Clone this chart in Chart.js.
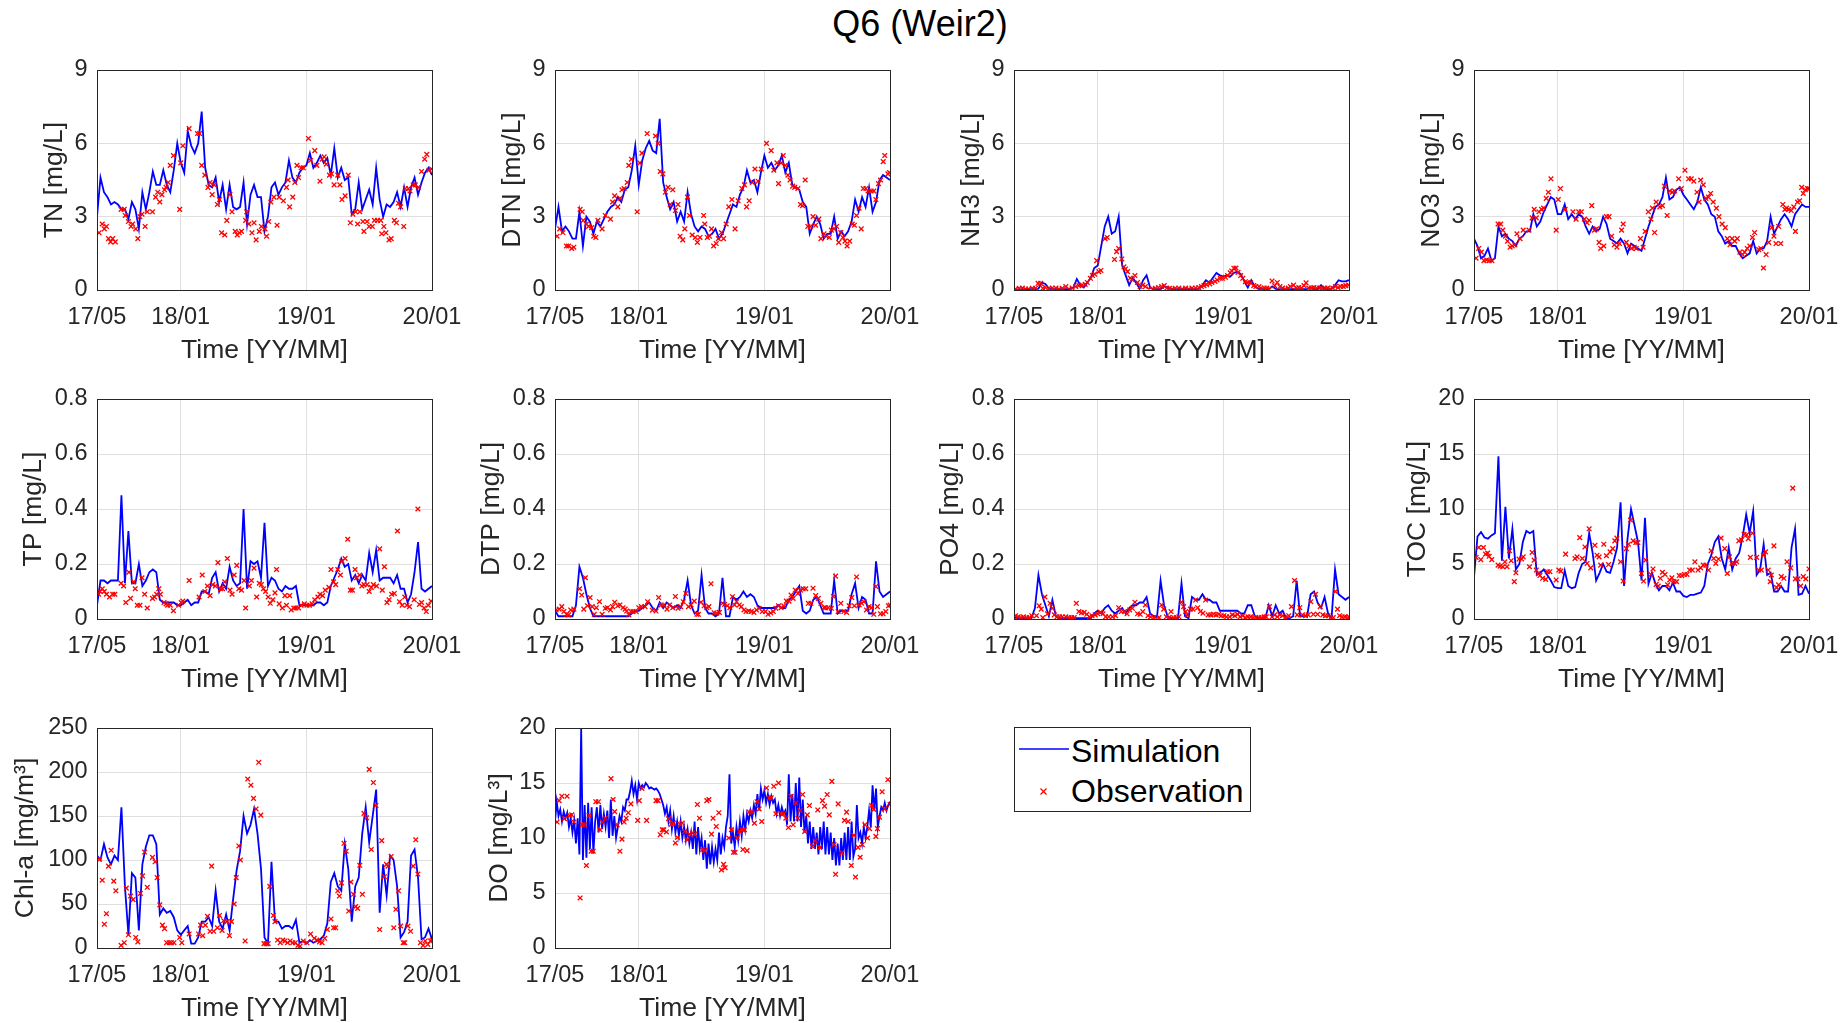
<!DOCTYPE html>
<html>
<head>
<meta charset="utf-8">
<title>Q6 (Weir2)</title>
<script src="https://cdn.jsdelivr.net/npm/chart.js@4.4.1/dist/chart.umd.min.js"></script>
<style>
  body { margin: 0; background: #fff; width: 1847px; height: 1023px; position: relative; overflow: hidden;
         font-family: "Liberation Sans", Arial, sans-serif; }
  #title { position: absolute; left: 0; top: 4px; width: 1840px; line-height: 40px; text-align: center;
           font-size: 36px; color: #000; }
  canvas { position: absolute; }
  #legend { position: absolute; left: 1014px; top: 727px; width: 235px; height: 83px;
            border: 1px solid #262626; background: #fff; }
  #legend svg { position: absolute; left: 0; top: 0; }
  #legend span { position: absolute; left: 56px; font-size: 32px; line-height: 36px; color: #000; }
</style>
</head>
<body>
<div id="title">Q6 (Weir2)</div>
<div id="legend">
  <svg width="235" height="83">
    <line x1="4" y1="21" x2="54" y2="21" stroke="#0000ff" stroke-width="1.4"/>
    <line x1="25.5" y1="60.5" x2="31.5" y2="66.5" stroke="#ff0000" stroke-width="1.3"/>
    <line x1="25.5" y1="66.5" x2="31.5" y2="60.5" stroke="#ff0000" stroke-width="1.3"/>
  </svg>
  <span style="top:5px">Simulation</span>
  <span style="top:45px">Observation</span>
</div>
<script>
// model output every 1/3 month from 2017-05 to 2020-01 (x in months since 17/05);
// DO is kept at 1/6 month because it swings a lot between days
const simMonths = Array.from({ length: 97 }, (_, i) => i / 3);
const doSimMonths = Array.from({ length: 193 }, (_, i) => i / 6);
const xTickMonths = [0, 8, 20, 32];
const xTickLabels = ['17/05', '18/01', '19/01', '20/01'];

const tnSim = [
  3.0, 4.6, 4.0, 3.8, 3.5, 3.6, 3.5, 3.3, 3.3, 2.9, 3.6, 3.3,
  2.5, 4.0, 3.3, 4.0, 4.85, 4.3, 4.3, 4.9, 4.3, 4.0, 4.9, 6.0,
  5.2, 4.8, 6.5, 5.9, 5.6, 6.0, 7.3, 5.0, 4.3, 4.2, 4.6, 3.6,
  4.3, 3.3, 4.3, 3.4, 3.3, 3.4, 4.4, 2.7, 3.9, 4.3, 3.8, 3.8,
  2.4, 3.0, 4.2, 4.4, 3.9, 4.2, 4.4, 5.3, 4.6, 4.4, 4.8, 5.0,
  5.1, 5.6, 5.0, 5.2, 5.5, 5.2, 5.4, 4.7, 5.8, 4.6, 5.0, 4.5,
  4.6, 3.1, 3.3, 4.4, 3.3, 3.7, 4.1, 3.5, 5.0, 3.7, 3.0, 3.5,
  3.4, 3.6, 4.0, 3.4, 4.2, 3.4, 4.2, 4.6, 3.9, 4.4, 4.8, 5.0,
  4.7
];
const tnObs = [[0.2,2.34],[0.5,2.7],[0.7,2.5],[0.9,2.6],[1.1,2.1],[1.3,1.97],[1.5,2.1],[1.75,1.97],[2.3,3.3],[2.6,3.3],
  [2.7,3.05],[3.0,2.8],[3.25,2.6],[3.4,2.7],[3.7,2.5],[3.9,2.1],[4.1,3.0],[4.3,3.1],[4.6,2.6],[4.8,3.2],[5.3,3.2],[5.6,3.8],
  [5.8,4.0],[6.0,3.6],[6.2,3.9],[6.45,4.1],[6.6,4.2],[6.8,4.4],[7.0,5.1],[7.3,5.5],[7.9,3.3],[8.0,5.2],[8.2,5.9],[8.8,6.6],
  [9.6,6.4],[9.8,6.4],[10.0,5.1],[10.3,4.7],[10.6,4.2],[10.8,4.4],[11.0,3.9],[11.2,4.3],[11.5,3.5],[11.7,3.7],[11.9,2.34],
  [12.2,2.25],[12.4,2.85],[12.7,3.9],[12.9,3.2],[13.2,2.4],[13.4,2.25],[13.6,2.34],[13.8,2.4],[14.2,2.85],[14.3,3.2],[14.5,2.7],
  [14.8,2.34],[15.0,2.75],[15.2,2.05],[15.5,2.4],[15.7,2.6],[16.05,2.5],[16.2,2.2],[16.4,2.8],[16.6,3.6],[16.9,3.8],[17.2,2.65],
  [17.4,3.8],[17.8,3.65],[18.1,4.2],[18.25,4.5],[18.4,3.4],[18.7,3.8],[18.9,4.4],[19.1,5.1],[19.25,4.6],[19.5,5.0],[19.7,5.0],
  [20.2,6.2],[20.4,5.3],[20.8,5.7],[21.0,5.1],[21.3,4.45],[21.5,5.35],[21.7,5.45],[21.9,5.15],[22.2,4.7],[22.4,4.75],[22.65,4.3],
  [23.0,4.7],[23.2,4.3],[23.4,3.7],[23.7,3.85],[24.0,4.7],[24.2,2.75],[24.45,3.1],[24.7,3.2],[24.9,2.7],[25.1,3.2],[25.4,2.8],
  [25.5,2.4],[25.8,2.8],[26.0,2.6],[26.3,2.6],[26.5,2.85],[26.8,2.85],[27.1,2.85],[27.2,2.3],[27.4,2.6],[27.6,2.34],[27.9,2.05],
  [28.1,2.1],[28.4,2.85],[28.6,2.75],[28.8,3.55],[29.0,3.4],[29.3,2.6],[29.45,4.15],[29.75,4.15],[29.9,4.05],[30.2,4.3],
  [30.4,4.3],[30.7,4.2],[31.0,4.85],[31.3,5.35],[31.5,5.55],[31.7,4.9],[31.95,4.95]];

const dtnSim = [
  2.5, 3.4, 2.4, 2.6, 2.4, 2.1, 2.1, 3.2, 1.8, 3.0, 2.8, 2.3,
  2.8, 2.6, 2.9, 3.2, 3.4, 3.5, 3.8, 3.6, 4.1, 4.2, 4.9, 5.9,
  4.3, 5.3, 5.8, 6.1, 5.7, 5.6, 7.0, 4.4, 3.8, 3.3, 3.6, 2.8,
  3.2, 2.8, 4.0, 3.1, 2.6, 2.4, 2.6, 2.5, 2.2, 2.3, 2.5, 2.1,
  2.3, 2.7, 3.1, 3.5, 3.4, 3.9, 4.2, 4.9, 4.4, 4.5, 4.0, 4.8,
  5.5, 5.0, 5.2, 4.9, 5.1, 5.5, 4.8, 5.2, 4.3, 4.2, 4.1, 3.6,
  3.4, 2.3, 2.7, 3.0, 2.7, 2.1, 2.3, 2.3, 3.0, 2.1, 2.4, 2.2,
  2.4, 2.8, 3.7, 3.2, 3.8, 3.4, 4.2, 3.2, 3.6, 4.5, 4.7, 4.6,
  4.5
];
const dtnObs = [[0.2,2.2],[0.45,2.5],[0.75,2.35],[1.1,1.8],[1.3,1.8],[1.6,1.7],[1.8,1.75],[2.4,3.3],[2.6,3.2],[2.7,2.85],
  [3.0,2.7],[3.2,2.6],[3.5,2.55],[3.7,2.2],[3.9,2.15],[4.1,2.85],[4.5,2.5],[4.8,3.05],[5.3,2.9],[5.5,3.6],[5.7,3.85],[6.0,3.4],
  [6.2,3.75],[6.4,4.1],[6.6,4.15],[6.9,4.4],[7.05,5.1],[7.3,5.35],[7.85,3.2],[8.1,5.2],[8.3,5.6],[8.8,6.4],[9.6,6.3],[9.85,6.0],
  [10.05,4.85],[10.3,4.75],[10.55,4.0],[10.8,4.2],[11.0,3.5],[11.25,4.1],[11.5,3.25],[11.75,3.5],[11.95,2.2],[12.2,2.05],
  [12.4,2.5],[12.65,3.8],[12.85,3.05],[13.1,2.25],[13.4,2.15],[13.6,1.95],[13.85,2.15],[14.2,3.05],[14.3,2.7],[14.55,2.15],
  [14.75,2.2],[14.95,2.5],[15.15,1.8],[15.4,1.9],[15.6,2.1],[15.9,2.35],[16.1,2.1],[16.35,2.7],[16.6,3.4],[16.9,3.7],[17.2,2.5],
  [17.5,3.65],[17.85,4.15],[18.1,4.3],[18.3,3.4],[18.55,3.65],[18.85,4.4],[19.1,4.95],[19.4,4.45],[19.7,4.95],[20.2,6.0],
  [20.65,5.7],[20.9,4.9],[21.2,5.2],[21.35,4.35],[21.6,5.2],[21.8,5.5],[22.0,5.1],[22.25,4.7],[22.45,4.5],[22.7,4.25],[22.9,4.2],
  [23.2,4.15],[23.45,3.5],[23.65,3.45],[23.9,4.5],[24.15,2.6],[24.4,2.6],[24.65,3.0],[24.9,2.65],[25.2,2.9],[25.4,2.1],[25.7,2.3],
  [25.9,2.2],[26.2,2.15],[26.4,2.45],[26.65,2.5],[26.9,2.6],[27.1,1.95],[27.3,2.35],[27.5,2.15],[27.7,2.0],[27.9,1.8],[28.15,2.0],
  [28.4,2.7],[28.6,2.65],[28.8,3.05],[29.05,3.35],[29.25,2.5],[29.45,4.15],[29.7,4.15],[29.9,4.05],[30.2,4.05],[30.45,4.05],
  [30.65,3.7],[30.9,4.35],[31.1,4.5],[31.35,5.25],[31.5,5.5],[31.8,4.75],[31.95,4.8]];

const nh3Sim = [
  0.05, 0.02, 0.02, 0.02, 0.02, 0.03, 0.03, 0.05, 0.3, 0.25, 0.05, 0.05,
  0.03, 0.03, 0.03, 0.03, 0.03, 0.1, 0.45, 0.2, 0.1, 0.3, 0.5, 0.9,
  1.0, 1.8, 2.6, 3.0, 2.3, 2.4, 3.0, 1.0, 0.6, 0.2, 0.5, 0.3,
  0.05, 0.4, 0.6, 0.1, 0.03, 0.03, 0.03, 0.15, 0.1, 0.03, 0.03, 0.03,
  0.03, 0.03, 0.03, 0.03, 0.03, 0.05, 0.2, 0.4, 0.3, 0.5, 0.7, 0.6,
  0.55, 0.6, 0.55, 0.7, 0.75, 0.65, 0.35, 0.1, 0.4, 0.15, 0.05, 0.05,
  0.03, 0.03, 0.15, 0.05, 0.03, 0.03, 0.03, 0.03, 0.03, 0.03, 0.03, 0.03,
  0.03, 0.12, 0.03, 0.03, 0.2, 0.05, 0.03, 0.05, 0.2, 0.4, 0.35, 0.35,
  0.4
];
const nh3Obs = [[0.15,0.04],[0.5,0.07],[0.8,0.08],[1.1,0.04],[1.4,0.04],[1.75,0.07],[2.05,0.07],[2.3,0.27],[2.55,0.27],
  [2.75,0.07],[3.0,0.1],[3.35,0.07],[3.65,0.08],[4.0,0.08],[4.3,0.04],[4.6,0.07],[4.95,0.14],[5.25,0.04],[5.55,0.08],[5.9,0.14],
  [6.2,0.18],[6.5,0.2],[6.8,0.23],[7.0,0.31],[7.3,0.48],[7.5,0.59],[7.7,0.65],[7.9,1.2],[8.1,0.75],[8.3,0.8],[8.7,2.1],[8.9,2.15],
  [9.6,1.25],[9.8,1.57],[10.0,1.7],[10.3,1.27],[10.5,0.95],[10.65,0.86],[10.85,0.75],[11.1,0.49],[11.3,0.42],[11.55,0.59],
  [11.8,0.31],[12.05,0.14],[12.3,0.2],[12.55,0.14],[12.9,0.04],[13.2,0.04],[13.5,0.07],[13.8,0.1],[14.1,0.14],[14.35,0.18],
  [14.6,0.08],[14.85,0.07],[15.1,0.04],[15.4,0.07],[15.75,0.08],[16.05,0.04],[16.4,0.08],[16.7,0.04],[17.0,0.08],[17.35,0.08],
  [17.65,0.1],[17.9,0.14],[18.15,0.18],[18.4,0.22],[18.7,0.25],[18.9,0.31],[19.2,0.35],[19.4,0.41],[19.7,0.48],[19.9,0.48],
  [20.2,0.52],[20.4,0.59],[20.65,0.7],[20.8,0.78],[21.0,0.89],[21.2,0.9],[21.4,0.72],[21.65,0.59],[21.85,0.48],[22.1,0.34],
  [22.35,0.31],[22.6,0.29],[22.9,0.18],[23.1,0.14],[23.4,0.14],[23.6,0.08],[23.9,0.08],[24.15,0.08],[24.4,0.04],[24.65,0.37],
  [24.9,0.18],[25.15,0.31],[25.4,0.14],[25.65,0.08],[25.9,0.04],[26.2,0.08],[26.4,0.14],[26.7,0.2],[26.95,0.08],[27.2,0.1],
  [27.45,0.08],[27.7,0.18],[27.9,0.29],[28.15,0.08],[28.4,0.08],[28.65,0.1],[28.9,0.08],[29.2,0.08],[29.4,0.07],[29.7,0.08],
  [29.95,0.08],[30.2,0.04],[30.45,0.08],[30.7,0.14],[30.95,0.1],[31.2,0.14],[31.45,0.15],[31.7,0.18],[31.95,0.2]];

const no3Sim = [
  2.1, 1.8, 1.3, 1.4, 1.7, 1.2, 1.3, 2.6, 2.2, 2.3, 2.1, 2.0,
  1.8, 2.1, 2.2, 2.4, 2.4, 3.1, 2.6, 2.8, 3.2, 3.5, 3.8, 3.7,
  3.1, 3.1, 3.5, 2.9, 3.1, 2.9, 3.1, 3.0, 2.6, 2.3, 2.6, 2.4,
  2.5, 3.0, 2.7, 2.1, 2.0, 1.9, 2.1, 1.9, 1.5, 1.9, 1.8, 1.7,
  1.6, 2.1, 2.6, 3.0, 3.4, 3.5, 3.8, 4.6, 3.7, 3.8, 4.1, 4.2,
  3.9, 3.7, 3.5, 3.3, 3.6, 4.2, 3.7, 3.5, 3.1, 3.0, 2.4, 2.2,
  1.9, 2.0, 1.8, 1.8, 1.5, 1.3, 1.4, 1.5, 2.0, 1.5, 1.7, 1.7,
  2.0, 3.0, 2.3, 2.6, 2.9, 3.1, 2.9, 2.6, 3.1, 3.3, 3.5, 3.4,
  3.4
];
const no3Obs = [[0.2,1.3],[0.45,1.7],[0.7,1.55],[0.95,1.2],[1.2,1.23],[1.45,1.2],[1.7,1.2],[2.3,2.7],[2.55,2.7],[2.75,2.45],
  [3.0,2.2],[3.2,2.0],[3.45,1.75],[3.65,1.8],[3.9,1.85],[4.1,2.3],[4.4,2.1],[4.7,2.45],[5.25,2.45],[5.55,2.95],[5.75,3.3],
  [5.95,2.95],[6.2,3.2],[6.45,3.3],[6.65,3.35],[6.9,3.75],[7.1,4.0],[7.35,4.55],[7.85,2.45],[8.05,3.7],[8.25,4.15],[8.7,3.3],
  [9.45,3.2],[9.75,2.9],[10.0,3.2],[10.25,3.2],[10.55,2.9],[10.8,2.75],[11.0,2.85],[11.25,3.45],[11.5,2.45],[11.7,2.5],
  [11.95,1.95],[12.1,1.7],[12.4,1.8],[12.65,3.0],[12.9,3.0],[13.15,2.2],[13.4,1.85],[13.65,1.75],[13.9,1.9],[14.1,2.45],
  [14.25,2.7],[14.55,1.95],[14.8,1.8],[15.05,1.7],[15.3,1.75],[15.5,1.7],[15.9,2.1],[16.15,1.75],[16.35,2.4],[16.65,3.2],
  [16.9,2.9],[17.05,3.35],[17.25,2.35],[17.4,3.6],[17.75,3.4],[18.0,3.45],[18.2,4.25],[18.45,3.05],[18.7,4.05],[18.95,4.0],
  [19.15,4.05],[19.55,4.55],[19.8,4.15],[20.15,4.9],[20.5,4.55],[20.75,4.55],[21.0,4.45],[21.3,4.0],[21.5,3.6],[21.65,4.5],
  [21.9,4.3],[22.15,3.75],[22.4,3.8],[22.6,3.95],[22.85,3.6],[23.15,3.35],[23.4,3.0],[23.7,2.7],[24.0,2.55],[24.2,2.1],
  [24.45,1.85],[24.65,2.1],[24.9,2.0],[25.15,2.1],[25.4,1.55],[25.65,1.45],[25.85,1.55],[26.1,1.7],[26.35,1.8],[26.6,2.15],
  [26.8,2.35],[27.2,1.65],[27.4,1.7],[27.65,0.9],[27.9,1.45],[28.15,1.95],[28.45,2.55],[28.65,2.2],[28.85,1.9],[29.1,2.6],
  [29.3,1.9],[29.5,3.5],[29.7,3.3],[29.85,3.35],[30.05,3.3],[30.3,3.25],[30.55,3.4],[30.7,2.4],[30.9,3.6],[31.1,3.65],
  [31.3,4.2],[31.45,3.95],[31.65,4.1],[31.85,4.15],[32.0,4.15]];

const tpSim = [
  0.05, 0.14, 0.14, 0.13, 0.14, 0.14, 0.14, 0.45, 0.13, 0.32, 0.13, 0.13,
  0.2, 0.12, 0.14, 0.17, 0.18, 0.17, 0.07, 0.06, 0.06, 0.06, 0.06, 0.05,
  0.05, 0.06, 0.07, 0.05, 0.06, 0.06, 0.1, 0.1, 0.09, 0.15, 0.17, 0.1,
  0.13, 0.11, 0.19, 0.14, 0.12, 0.13, 0.4, 0.11, 0.21, 0.2, 0.21, 0.15,
  0.35, 0.12, 0.15, 0.14, 0.11, 0.1, 0.12, 0.11, 0.11, 0.12, 0.05, 0.05,
  0.05, 0.05, 0.05, 0.06, 0.06, 0.05, 0.06, 0.12, 0.15, 0.18, 0.22, 0.19,
  0.2, 0.14, 0.16, 0.13, 0.16, 0.14, 0.24, 0.17, 0.25, 0.14, 0.15, 0.15,
  0.15, 0.13, 0.16, 0.11, 0.11, 0.06, 0.09, 0.17, 0.28, 0.11, 0.1, 0.11,
  0.12
];
const tpObs = [[0.15,0.09],[0.3,0.1],[0.5,0.11],[0.7,0.1],[0.9,0.09],[1.2,0.08],[1.5,0.09],[1.7,0.09],[2.3,0.13],[2.55,0.12],
  [2.75,0.06],[3.05,0.17],[3.2,0.075],[3.5,0.135],[3.65,0.11],[3.85,0.05],[4.1,0.05],[4.3,0.15],[4.55,0.09],[4.8,0.04],
  [5.3,0.075],[5.5,0.08],[5.7,0.09],[5.9,0.11],[6.05,0.09],[6.4,0.06],[6.6,0.055],[6.75,0.05],[7.0,0.05],[7.3,0.03],[7.8,0.05],
  [8.05,0.06],[8.2,0.065],[8.8,0.14],[9.75,0.08],[10.05,0.16],[10.3,0.1],[10.55,0.12],[10.8,0.085],[11.05,0.125],[11.3,0.12],
  [11.55,0.205],[11.8,0.11],[12.0,0.11],[12.2,0.135],[12.45,0.22],[12.7,0.105],[12.9,0.09],[13.1,0.16],[13.35,0.195],
  [13.55,0.11],[13.8,0.105],[14.05,0.14],[14.2,0.04],[14.55,0.12],[14.75,0.14],[15.0,0.185],[15.25,0.08],[15.5,0.13],
  [15.7,0.125],[15.9,0.11],[16.1,0.1],[16.35,0.08],[16.55,0.057],[16.8,0.07],[17.0,0.095],[17.15,0.18],[17.4,0.055],[17.7,0.04],
  [17.95,0.085],[18.1,0.05],[18.4,0.085],[18.55,0.033],[18.8,0.04],[19.0,0.04],[19.25,0.04],[19.5,0.05],[19.8,0.055],
  [20.05,0.05],[20.3,0.05],[20.55,0.055],[20.8,0.07],[21.1,0.08],[21.3,0.09],[21.55,0.085],[21.8,0.105],[22.15,0.115],
  [22.35,0.18],[22.6,0.135],[22.8,0.125],[23.0,0.18],[23.25,0.16],[23.4,0.21],[23.7,0.22],[23.95,0.29],[24.2,0.105],
  [24.4,0.105],[24.65,0.18],[24.8,0.15],[25.1,0.16],[25.3,0.12],[25.5,0.125],[25.8,0.125],[26.0,0.1],[26.2,0.115],[26.4,0.125],
  [26.7,0.12],[27.0,0.255],[27.25,0.105],[27.45,0.19],[27.7,0.06],[27.9,0.07],[28.15,0.09],[28.4,0.093],[28.7,0.32],
  [28.9,0.063],[29.15,0.05],[29.4,0.08],[29.6,0.05],[29.85,0.045],[30.3,0.07],[30.65,0.4],[30.8,0.053],[31.0,0.06],
  [31.25,0.04],[31.45,0.027],[31.65,0.05],[31.9,0.065]];

const dtpSim = [
  0.03, 0.01, 0.01, 0.01, 0.01, 0.01, 0.05, 0.19, 0.15, 0.09, 0.04, 0.01,
  0.01, 0.01, 0.01, 0.01, 0.01, 0.01, 0.01, 0.01, 0.01, 0.01, 0.02, 0.03,
  0.03, 0.04, 0.05, 0.06, 0.04, 0.03, 0.06, 0.04, 0.06, 0.05, 0.04, 0.05,
  0.04, 0.07, 0.14, 0.05, 0.02, 0.03, 0.16, 0.04, 0.02, 0.02, 0.01, 0.02,
  0.15, 0.01, 0.01, 0.08, 0.07, 0.08, 0.1, 0.08, 0.09, 0.08, 0.05, 0.04,
  0.04, 0.04, 0.04, 0.04, 0.05, 0.04, 0.04, 0.07, 0.08, 0.1, 0.12, 0.03,
  0.02, 0.03, 0.07, 0.08, 0.05, 0.02, 0.02, 0.02, 0.14, 0.02, 0.03, 0.03,
  0.03, 0.09, 0.13, 0.04, 0.08, 0.07, 0.02, 0.02, 0.21, 0.1, 0.08, 0.09,
  0.1
];
const dtpObs = [[0.1,0.033],[0.4,0.036],[0.65,0.045],[0.85,0.027],[1.1,0.017],[1.3,0.015],[1.5,0.033],[1.8,0.036],[2.35,0.11],
  [2.55,0.087],[2.75,0.036],[2.9,0.15],[3.1,0.048],[3.35,0.078],[3.55,0.045],[3.75,0.017],[3.95,0.041],[4.25,0.063],[4.5,0.017],
  [4.8,0.039],[5.0,0.041],[5.3,0.033],[5.5,0.045],[5.7,0.061],[6.0,0.048],[6.2,0.051],[6.5,0.041],[6.7,0.036],[6.85,0.029],
  [7.05,0.015],[7.25,0.027],[7.45,0.027],[7.75,0.027],[8.0,0.041],[8.25,0.045],[8.6,0.045],[8.85,0.063],[9.3,0.032],[9.65,0.029],
  [9.9,0.078],[10.15,0.051],[10.4,0.051],[10.7,0.036],[10.95,0.051],[11.25,0.041],[11.5,0.082],[11.75,0.039],[12.0,0.045],
  [12.25,0.063],[12.5,0.093],[12.75,0.045],[13.0,0.051],[13.3,0.065],[13.55,0.017],[13.7,0.017],[13.95,0.061],[14.25,0.048],
  [14.5,0.041],[14.7,0.045],[14.9,0.128],[15.2,0.023],[15.45,0.021],[15.7,0.024],[16.0,0.057],[16.2,0.053],[16.45,0.048],
  [16.7,0.041],[16.95,0.081],[17.15,0.051],[17.35,0.063],[17.6,0.051],[17.8,0.045],[18.05,0.033],[18.25,0.027],[18.5,0.029],
  [18.75,0.027],[19.0,0.024],[19.25,0.033],[19.5,0.039],[19.8,0.027],[20.1,0.027],[20.35,0.017],[20.6,0.022],[20.85,0.027],
  [21.1,0.039],[21.35,0.048],[21.6,0.041],[21.85,0.048],[22.1,0.065],[22.35,0.065],[22.55,0.087],[22.75,0.075],[22.95,0.105],
  [23.2,0.093],[23.45,0.105],[23.7,0.11],[23.95,0.11],[24.2,0.057],[24.45,0.057],[24.65,0.112],[24.9,0.085],[25.15,0.075],
  [25.4,0.057],[25.7,0.041],[25.85,0.041],[26.1,0.041],[26.4,0.039],[26.6,0.082],[26.8,0.156],[27.05,0.027],[27.3,0.057],
  [27.6,0.027],[27.85,0.024],[28.1,0.048],[28.35,0.078],[28.6,0.048],[28.8,0.153],[29.05,0.051],[29.3,0.057],[29.5,0.063],
  [29.75,0.033],[30.0,0.045],[30.25,0.041],[30.45,0.017],[30.65,0.118],[30.8,0.045],[31.1,0.019],[31.35,0.019],[31.6,0.027],
  [31.85,0.048],[32.0,0.051]];

const po4Sim = [
  0.005, 0.003, 0.003, 0.003, 0.003, 0.003, 0.04, 0.16, 0.09, 0.05, 0.01, 0.07,
  0.01, 0.003, 0.003, 0.003, 0.003, 0.003, 0.003, 0.003, 0.003, 0.003, 0.003, 0.02,
  0.03, 0.02, 0.04, 0.05, 0.03, 0.02, 0.03, 0.04, 0.02, 0.04, 0.05, 0.05,
  0.06, 0.06, 0.08, 0.02, 0.01, 0.01, 0.14, 0.05, 0.01, 0.003, 0.003, 0.003,
  0.13, 0.01, 0.003, 0.08, 0.07, 0.07, 0.09, 0.07, 0.07, 0.06, 0.06, 0.03,
  0.03, 0.03, 0.03, 0.03, 0.03, 0.02, 0.02, 0.05, 0.05, 0.01, 0.003, 0.003,
  0.003, 0.05, 0.01, 0.05, 0.02, 0.03, 0.003, 0.003, 0.01, 0.14, 0.01, 0.01,
  0.01, 0.09, 0.1, 0.06, 0.04, 0.08, 0.02, 0.003, 0.18, 0.09, 0.08, 0.07,
  0.08
];
const po4Obs = [[0.15,0.012],[0.4,0.008],[0.65,0.005],[0.9,0.008],[1.2,0.005],[1.45,0.005],[1.7,0.012],[2.15,0.012],[2.4,0.048],
  [2.6,0.036],[2.75,0.005],[2.95,0.08],[3.2,0.019],[3.45,0.057],[3.65,0.039],[3.85,0.015],[4.1,0.008],[4.35,0.008],[4.6,0.008],
  [4.95,0.008],[5.25,0.005],[5.5,0.005],[5.75,0.005],[5.95,0.057],[6.2,0.027],[6.45,0.023],[6.7,0.024],[6.95,0.017],[7.2,0.008],
  [7.45,0.012],[7.75,0.015],[8.0,0.019],[8.25,0.024],[8.5,0.019],[8.75,0.008],[9.05,0.008],[9.4,0.008],[9.7,0.012],[10.0,0.041],
  [10.25,0.027],[10.55,0.027],[10.8,0.019],[11.05,0.033],[11.3,0.039],[11.55,0.061],[11.8,0.019],[12.05,0.017],[12.3,0.027],
  [12.55,0.051],[12.8,0.012],[13.05,0.008],[13.35,0.005],[13.6,0.003],[13.85,0.005],[14.1,0.051],[14.3,0.036],[14.55,0.008],
  [14.8,0.005],[15.0,0.027],[15.25,0.005],[15.5,0.005],[15.75,0.008],[16.0,0.061],[16.2,0.045],[16.4,0.027],[16.55,0.015],
  [16.85,0.036],[17.1,0.036],[17.35,0.069],[17.55,0.041],[17.8,0.027],[18.05,0.021],[18.3,0.069],[18.55,0.015],[18.8,0.015],
  [19.05,0.017],[19.3,0.015],[19.55,0.017],[19.8,0.012],[20.05,0.012],[20.3,0.008],[20.6,0.008],[20.85,0.015],[21.1,0.012],
  [21.35,0.017],[21.6,0.008],[21.85,0.012],[22.1,0.005],[22.35,0.008],[22.6,0.008],[22.85,0.005],[23.1,0.005],[23.4,0.005],
  [23.65,0.005],[23.9,0.008],[24.1,0.008],[24.4,0.045],[24.65,0.008],[24.9,0.015],[25.15,0.008],[25.4,0.015],[25.65,0.012],
  [25.9,0.005],[26.25,0.012],[26.5,0.045],[26.8,0.14],[27.05,0.015],[27.3,0.041],[27.55,0.015],[27.85,0.012],[28.1,0.015],
  [28.35,0.063],[28.6,0.017],[28.8,0.09],[29.0,0.017],[29.25,0.045],[29.5,0.015],[29.75,0.012],[30.0,0.012],[30.25,0.005],
  [30.5,0.005],[30.7,0.1],[30.9,0.036],[31.1,0.012],[31.35,0.008],[31.6,0.008],[31.85,0.005],[32.0,0.008]];

const tocSim = [
  3.8, 7.5, 7.9, 7.4, 7.3, 7.6, 7.8, 14.8, 5.3, 10.2, 5.5, 8.2,
  4.5, 5.0, 7.0, 8.0, 7.8, 8.0, 4.0, 4.2, 4.5, 4.0, 3.5, 2.9,
  2.8, 2.8, 4.4, 3.0, 2.8, 2.9, 4.2, 5.0, 5.2, 7.8, 6.0, 3.5,
  4.2, 5.0, 4.3, 4.2, 5.2, 6.5, 10.6, 3.0, 7.3, 10.0, 8.5, 7.0,
  3.5, 9.2, 3.2, 4.2, 3.2, 2.6, 3.0, 3.0, 2.6, 3.3, 2.5, 2.5,
  2.1, 2.0, 2.2, 2.2, 2.3, 2.4, 3.0, 5.0, 5.8, 7.0, 7.5, 5.5,
  4.5, 6.5, 4.5, 5.5, 6.0, 7.5, 9.5, 7.8, 9.8, 4.0, 4.5, 6.8,
  4.0, 4.2, 2.5, 2.5, 3.0, 2.5, 2.5, 6.5, 8.2, 2.2, 2.3, 3.0,
  2.3
];
const tocObs = [[0.2,5.6],[0.45,6.5],[0.65,5.4],[0.9,6.5],[1.1,5.9],[1.3,6.0],[1.45,5.7],[1.7,5.4],[2.3,4.9],[2.5,4.8],
  [2.75,4.75],[2.95,5.2],[3.15,4.75],[3.4,6.2],[3.55,5.3],[3.85,3.4],[4.0,4.2],[4.3,5.45],[4.55,5.45],[4.7,5.65],[5.3,4.75],
  [5.55,6.05],[5.75,5.35],[5.95,4.45],[6.15,4.15],[6.3,3.95],[6.55,3.7],[6.85,3.6],[7.0,4.3],[7.25,4.3],[7.85,3.55],[8.1,4.45],
  [8.3,4.35],[8.75,5.9],[9.65,5.5],[9.85,5.65],[10.1,7.4],[10.35,5.5],[10.6,6.55],[10.8,5.05],[11.0,8.2],[11.15,4.65],
  [11.55,6.7],[11.75,5.8],[11.95,5.65],[12.1,4.9],[12.4,6.8],[12.65,5.75],[12.85,4.95],[13.0,6.1],[13.25,6.4],[13.45,7.1],
  [13.65,7.35],[14.0,5.2],[14.25,3.45],[14.55,6.4],[14.75,6.8],[14.95,9.0],[15.2,7.1],[15.45,6.95],[15.65,6.95],[16.0,4.15],
  [16.2,3.45],[16.4,5.35],[16.9,4.05],[17.1,4.55],[17.4,3.15],[17.6,3.0],[17.8,3.7],[18.0,4.25],[18.25,4.05],[18.5,3.1],
  [18.7,3.55],[18.9,3.75],[19.1,3.4],[19.35,3.4],[19.6,3.95],[19.85,3.95],[20.1,4.05],[20.35,4.05],[20.6,4.45],[20.85,4.45],
  [21.1,5.2],[21.4,4.45],[21.65,4.65],[21.9,4.9],[22.15,4.9],[22.4,4.45],[22.65,6.2],[22.9,5.5],[23.1,5.05],[23.35,5.45],
  [23.6,7.35],[23.95,6.4],[24.2,4.15],[24.4,5.65],[24.65,5.05],[24.9,5.05],[25.1,5.2],[25.3,7.1],[25.55,7.2],[25.8,7.7],
  [26.05,7.65],[26.2,7.3],[26.4,5.6],[26.6,7.8],[27.0,5.6],[27.2,4.45],[27.45,4.45],[27.65,5.8],[27.85,6.1],[28.1,4.45],
  [28.3,3.4],[28.4,4.0],[28.65,6.65],[28.9,2.85],[29.1,3.1],[29.35,3.85],[29.6,3.7],[29.9,5.2],[30.25,4.65],[30.45,11.9],
  [30.7,3.65],[30.95,3.65],[31.2,3.0],[31.45,3.85],[31.7,3.65],[32.0,4.55]];

const chlaSim = [
  105, 100, 118, 103, 95, 105, 100, 160, 70, 15, 85, 80,
  20, 95, 115, 128, 128, 118, 38, 45, 40, 42, 35, 20,
  15, 20, 25, 5, 5, 12, 30, 30, 35, 25, 65, 30,
  22, 38, 20, 55, 88, 110, 150, 130, 140, 158, 130, 90,
  12, 5, 98, 30, 30, 22, 25, 25, 22, 32, 6, 8,
  5, 9, 6, 8, 10, 14, 28, 75, 85, 70, 65, 118,
  90, 30, 70, 80, 130, 160, 120, 150, 180, 40, 95, 60,
  105, 100, 70, 12, 18, 30, 105, 112, 80, 10, 12, 22,
  10
];
const chlaObs = [[0.25,101],[0.5,77],[0.7,27],[0.9,39],[1.1,93],[1.35,111],[1.6,76],[1.8,65],[2.3,3],[2.6,6],[2.8,68],
  [3.0,15],[3.2,59],[3.45,55],[3.7,12],[3.9,7],[4.15,62],[4.35,82],[4.55,109],[4.8,69],[5.3,103],[5.55,98],[5.75,80],[6.0,49],
  [6.25,26],[6.45,22],[6.65,6],[6.9,6],[7.1,6],[7.35,6],[7.9,12],[8.1,6],[8.8,16],[9.7,16],[9.9,26],[10.1,14],[10.35,26],
  [10.55,36],[10.8,19],[10.95,93],[11.15,19],[11.5,23],[11.7,37],[11.95,20],[12.1,31],[12.4,30],[12.65,14],[12.85,30],
  [13.1,50],[13.3,80],[13.55,116],[13.7,100],[14.15,8],[14.4,192],[14.7,185],[14.95,170],[15.2,158],[15.45,211],[15.65,151],
  [15.95,5],[16.15,5],[16.35,5],[16.5,70],[16.85,37],[17.0,30],[17.25,9],[17.5,6],[17.75,9],[17.95,8],[18.2,6],[18.45,8],
  [18.7,6],[18.95,6],[19.2,3],[19.4,2],[19.7,8],[20.05,6],[20.4,16],[20.75,11],[21.0,9],[21.25,7],[21.5,6],[21.75,11],
  [22.0,21],[22.35,33],[22.6,23],[22.8,23],[23.0,65],[23.15,59],[23.35,74],[23.6,119],[23.8,110],[24.05,42],[24.25,75],
  [24.5,61],[24.7,47],[24.9,45],[25.1,94],[25.35,61],[25.5,153],[25.75,148],[26.0,203],[26.2,112],[26.4,188],[26.65,162],
  [27.0,21],[27.2,122],[27.45,81],[27.65,95],[27.8,93],[28.1,104],[28.35,23],[28.55,44],[28.8,65],[29.0,25],[29.25,6],
  [29.4,6],[29.7,25],[29.95,19],[30.2,93],[30.45,123],[30.65,84],[30.9,6],[31.15,3],[31.35,8],[31.6,4],[31.85,8],[32.0,9]];

// DO at 1/6 month, six values per month
const doSim = [
  11.5, 13.3, 12.0, 12.6, 11.5, 12.4,
  11.8, 12.3, 11.0, 11.8, 10.5, 11.6,
  9.5, 11.8, 8.5, 20, 8.0, 13.0,
  8.2, 13.2, 9.0, 12.8, 8.6, 11.5,
  12.8, 10.5, 13.0, 10.8, 12.2, 11.0,
  12.5, 10.0, 13.5, 10.2, 12.0, 10.0,
  11.0, 12.0, 11.5, 12.8, 12.5, 13.5,
  13.5, 14.2, 15.2, 14.0, 14.8, 13.5,
  15.0, 14.5, 14.8, 14.6, 15.0, 14.8,
  14.5, 14.6, 14.5, 14.4, 14.5, 14.3,
  14.0, 13.5, 13.0, 12.2, 12.8, 11.5,
  12.5, 10.8, 12.0, 10.5, 11.5, 10.2,
  11.5, 10.0, 11.0, 9.8, 10.8, 9.5,
  10.5, 9.0, 11.5, 8.5, 11.0, 9.0,
  10.0, 8.0, 9.8, 7.2, 9.5, 7.6,
  9.2, 7.8, 9.0, 8.0, 10.5, 8.5,
  10.0, 9.2, 11.0, 12.0, 15.8, 9.5,
  10.5, 9.2, 11.0, 9.8, 11.5, 10.2,
  12.0, 10.8, 12.2, 11.5, 12.5, 11.8,
  13.0, 12.2, 14.0, 12.5, 14.5, 13.5,
  14.3, 13.2, 14.0, 13.0, 13.8, 13.2,
  13.5, 12.2, 13.0, 12.0, 12.8, 12.2,
  12.5, 11.2, 15.8, 11.5, 14.0, 11.5,
  15.0, 11.5, 15.5, 11.0, 13.5, 10.5,
  12.0, 9.5, 11.5, 9.0, 11.0, 9.0,
  10.5, 8.5, 11.0, 9.0, 11.5, 8.5,
  11.0, 8.5, 10.5, 8.0, 10.0, 7.5,
  9.5, 7.5, 10.0, 8.0, 10.5, 8.0,
  11.0, 8.0, 11.5, 8.3, 9.0, 13.0,
  10.0, 10.5, 9.5, 11.0, 10.0, 11.0,
  12.5, 11.0, 14.8, 12.5, 14.5, 11.0,
  12.0, 12.8, 12.5, 13.2, 12.5, 13.0,
  13.3
];
const doObs = [[0.2,11.45],[0.4,13.4],[0.65,13.8],[0.9,11.75],[1.15,13.8],[1.4,12.05],[1.6,12.1],[1.8,11.45],[2.4,4.55],
  [2.6,11.2],[2.8,11.2],[3.0,7.5],[3.25,12.05],[3.45,8.8],[3.65,8.8],[3.9,13.3],[4.15,13.3],[4.3,10.75],[4.55,11.45],[4.8,11.8],
  [5.35,15.4],[5.55,13.5],[5.7,12.4],[5.95,11.2],[6.2,8.8],[6.4,9.9],[6.6,11.45],[6.8,11.8],[7.0,12.3],[7.25,13.1],[7.9,11.6],
  [8.05,13.4],[8.3,14.5],[8.75,11.6],[9.65,13.4],[9.85,13.4],[10.05,10.3],[10.25,10.75],[10.4,10.75],[10.65,10.55],
  [10.85,11.75],[11.1,11.25],[11.3,11.35],[11.5,9.55],[11.7,10.05],[11.95,11.25],[12.15,11.35],[12.4,10.6],[12.6,9.85],
  [12.85,10.35],[13.15,10.45],[13.35,10.35],[13.6,13.05],[13.8,11.8],[14.1,8.95],[14.3,8.85],[14.5,13.4],[14.7,13.5],
  [14.95,10.35],[15.1,11.8],[15.4,11.05],[15.65,12.3],[15.9,7.1],[16.1,7.6],[16.25,7.3],[16.6,10.0],[16.85,10.75],[17.05,8.7],
  [17.2,8.7],[17.4,10.0],[17.65,10.6],[17.9,10.75],[18.1,10.75],[17.95,8.95],[18.35,8.85],[18.55,12.35],[18.8,12.35],
  [19.05,11.35],[19.3,13.3],[19.5,12.65],[19.75,11.5],[20.2,14.55],[20.45,13.65],[20.65,13.65],[20.9,14.7],[21.1,12.2],
  [21.35,15.0],[21.6,12.2],[21.8,12.2],[22.05,11.8],[22.3,10.95],[22.55,13.8],[22.75,11.2],[23.0,13.2],[23.2,11.8],[23.4,12.5],
  [23.65,13.95],[23.85,10.6],[24.1,12.1],[24.3,12.95],[24.6,9.25],[24.85,9.75],[25.1,12.55],[25.3,9.15],[25.55,13.4],
  [25.75,12.9],[26.0,13.95],[26.2,12.1],[26.45,15.15],[26.65,9.4],[26.8,6.7],[27.05,13.1],[27.4,8.65],[27.65,11.6],
  [27.85,12.35],[28.0,11.5],[28.3,7.5],[28.55,10.25],[28.7,6.45],[28.95,9.15],[29.15,8.25],[29.35,9.4],[29.6,11.2],[29.85,10.0],
  [30.05,10.85],[30.25,12.95],[30.45,12.6],[30.65,10.15],[30.8,10.85],[31.0,11.9],[31.25,14.2],[31.5,12.65],[31.8,15.3],
  [32.0,13.05]];

// one entry per subplot: axis label, y range, and where its plot box sits on the page
const panels = [
  { label: 'TN [mg/L]',     t: simMonths,   sim: tnSim,   obs: tnObs,   max: 9,   step: 3,   left: 97,   top: 70,  gap: 42 },
  { label: 'DTN [mg/L]',    t: simMonths,   sim: dtnSim,  obs: dtnObs,  max: 9,   step: 3,   left: 555,  top: 70,  gap: 42 },
  { label: 'NH3 [mg/L]',    t: simMonths,   sim: nh3Sim,  obs: nh3Obs,  max: 9,   step: 3,   left: 1014, top: 70,  gap: 42 },
  { label: 'NO3 [mg/L]',    t: simMonths,   sim: no3Sim,  obs: no3Obs,  max: 9,   step: 3,   left: 1474, top: 70,  gap: 42 },
  { label: 'TP [mg/L]',     t: simMonths,   sim: tpSim,   obs: tpObs,   max: 0.8, step: 0.2, left: 97,   top: 399, gap: 63 },
  { label: 'DTP [mg/L]',    t: simMonths,   sim: dtpSim,  obs: dtpObs,  max: 0.8, step: 0.2, left: 555,  top: 399, gap: 63 },
  { label: 'PO4 [mg/L]',    t: simMonths,   sim: po4Sim,  obs: po4Obs,  max: 0.8, step: 0.2, left: 1014, top: 399, gap: 63 },
  { label: 'TOC [mg/L]',    t: simMonths,   sim: tocSim,  obs: tocObs,  max: 20,  step: 5,   left: 1474, top: 399, gap: 56 },
  { label: 'Chl-a [mg/m³]', t: simMonths,   sim: chlaSim, obs: chlaObs, max: 250, step: 50,  left: 97,   top: 728, gap: 71 },
  { label: 'DO [mg/L³]',    t: doSimMonths, sim: doSim,   obs: doObs,   max: 20,  step: 5,   left: 555,  top: 728, gap: 55 }
];

const PLOT_W = 335, PLOT_H = 220;
const Y_AXIS_W = 100, X_AXIS_H = 80, PAD_TOP = 24, PAD_RIGHT = 50;
const textColor = '#262626';
const gridColor = '#dfdfdf';

Chart.defaults.font.family = '"Liberation Sans", Arial, sans-serif';
Chart.defaults.color = textColor;

// full box around each plot area, like the MATLAB axes
const axesBox = {
  id: 'axesBox',
  afterDatasetsDraw(chart) {
    const { ctx, chartArea: a } = chart;
    ctx.save();
    ctx.strokeStyle = textColor;
    ctx.lineWidth = 1;
    ctx.strokeRect(Math.round(a.left) + 0.5, Math.round(a.top) + 0.5, Math.round(a.width), Math.round(a.height));
    ctx.restore();
  }
};

panels.forEach(p => {
  const canvas = document.createElement('canvas');
  canvas.width = Y_AXIS_W + PLOT_W + PAD_RIGHT;
  canvas.height = PAD_TOP + PLOT_H + X_AXIS_H;
  canvas.style.left = (p.left - Y_AXIS_W) + 'px';
  canvas.style.top = (p.top - PAD_TOP) + 'px';
  document.body.appendChild(canvas);

  new Chart(canvas, {
    type: 'scatter',
    data: {
      datasets: [
        {
          label: 'Observation',
          data: p.obs.map(([x, y]) => ({ x, y })),
          pointStyle: 'crossRot',
          pointRadius: 3.3,
          pointBorderWidth: 1.3,
          borderColor: '#ff0000',
          backgroundColor: '#ff0000',
          order: 0
        },
        {
          label: 'Simulation',
          data: p.t.map((x, i) => ({ x, y: p.sim[i] })),
          showLine: true,
          borderColor: '#0000ff',
          borderWidth: 1.8,
          pointRadius: 0,
          tension: 0,
          order: 1
        }
      ]
    },
    options: {
      responsive: false,
      animation: false,
      devicePixelRatio: 1,
      layout: { padding: { top: PAD_TOP, right: PAD_RIGHT, left: 0, bottom: 0 } },
      plugins: { legend: { display: false }, tooltip: { enabled: false } },
      scales: {
        x: {
          type: 'linear',
          min: 0,
          max: 32,
          afterBuildTicks: s => { s.ticks = xTickMonths.map(v => ({ value: v })); },
          afterFit: s => { s.height = X_AXIS_H; },
          grid: { color: gridColor, drawTicks: false },
          border: { display: false },
          ticks: {
            maxRotation: 0,
            padding: 13,
            color: textColor,
            font: { size: 23.5 },
            callback: v => xTickLabels[xTickMonths.indexOf(v)]
          },
          title: {
            display: true,
            text: 'Time [YY/MM]',
            color: textColor,
            font: { size: 26.5 },
            padding: { top: 0, bottom: 3 }
          }
        },
        y: {
          min: 0,
          max: p.max,
          afterFit: s => { s.width = Y_AXIS_W; },
          grid: { color: gridColor, drawTicks: false },
          border: { display: false },
          ticks: {
            stepSize: p.step,
            padding: 9.5,
            color: textColor,
            font: { size: 23.5 },
            callback: v => String(+v.toFixed(2))
          },
          title: {
            display: true,
            text: p.label,
            color: textColor,
            font: { size: 26.5 },
            padding: { top: Y_AXIS_W - p.gap - 15.9, bottom: 0 }
          }
        }
      }
    },
    plugins: [axesBox]
  });
});
</script>
</body>
</html>
